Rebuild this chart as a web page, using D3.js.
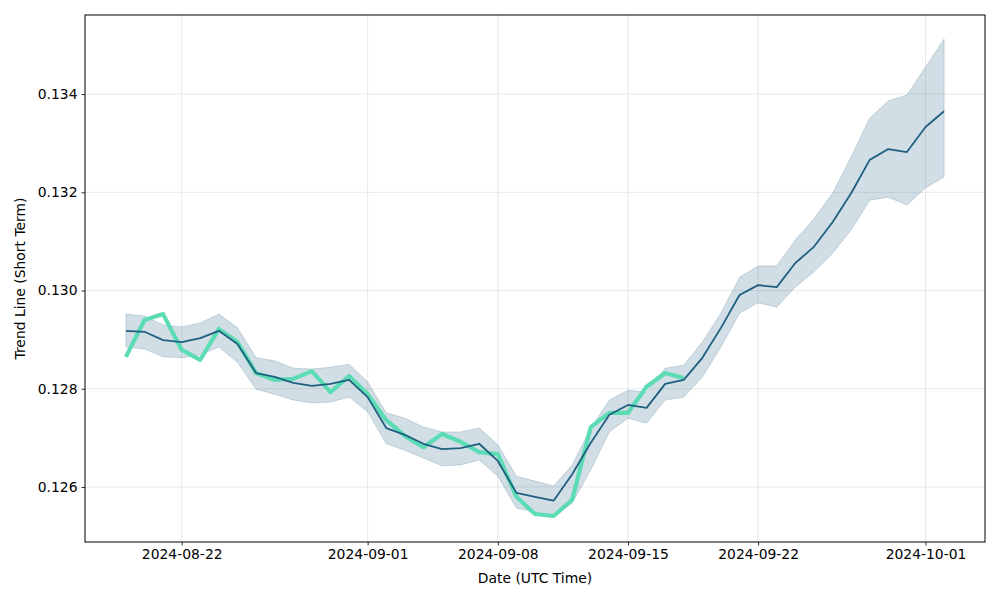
<!DOCTYPE html>
<html>
<head>
<meta charset="utf-8">
<title>Trend Line (Short Term)</title>
<script src="https://d3js.org/d3.v7.min.js"></script>
<style>
  html, body { margin: 0; padding: 0; background: #fff; }
  svg { display: block; font-family: "DejaVu Sans", sans-serif; }
</style>
</head>
<body>
<script>
// daily dates, 2024-08-19 .. 2024-10-02
var startDate = "2024-08-19";
var dayCount = 45;

// short term trend line (dark) and its band
var trendValues = [
  0.12918, 0.12916, 0.12899, 0.12895, 0.12903, 0.12918, 0.12891, 0.12832, 0.12824, 0.12812,
  0.12806, 0.12810, 0.12818, 0.12783, 0.12720, 0.12706, 0.12688, 0.12677, 0.12679, 0.12688,
  0.12653, 0.12588, 0.12580, 0.12572, 0.12626, 0.12690, 0.12747, 0.12767, 0.12761, 0.12810,
  0.12818, 0.12863, 0.12924, 0.12991, 0.13011, 0.13007, 0.13056, 0.13089, 0.13139, 0.13198,
  0.13266, 0.13288, 0.13282, 0.13333, 0.13365
];
var upperValues = [
  0.12952, 0.12948, 0.12930, 0.12926, 0.12934, 0.12952, 0.12924, 0.12863, 0.12857, 0.12842,
  0.12840, 0.12844, 0.12850, 0.12814, 0.12751, 0.12740, 0.12722, 0.12712, 0.12712, 0.12720,
  0.12686, 0.12622, 0.12612, 0.12602, 0.12645, 0.12720, 0.12777, 0.12797, 0.12793, 0.12842,
  0.12848, 0.12895, 0.12954, 0.13027, 0.13050, 0.13050, 0.13103, 0.13146, 0.13198, 0.13272,
  0.13351, 0.13386, 0.13398, 0.13455, 0.13512
];
var lowerValues = [
  0.12885, 0.12881, 0.12865, 0.12863, 0.12869, 0.12885, 0.12854, 0.12799, 0.12789, 0.12777,
  0.12771, 0.12773, 0.12783, 0.12753, 0.12688, 0.12675, 0.12659, 0.12643, 0.12645, 0.12655,
  0.12622, 0.12557, 0.12549, 0.12541, 0.12567, 0.12635, 0.12712, 0.12740, 0.12730, 0.12777,
  0.12783, 0.12824, 0.12885, 0.12954, 0.12975, 0.12966, 0.13007, 0.13038, 0.13076, 0.13123,
  0.13184, 0.13190, 0.13174, 0.13209, 0.13231
];
// actual price (green), 2024-08-19 .. 2024-09-18
var priceValues = [
  0.12865, 0.12940, 0.12952, 0.12879, 0.12859, 0.12922, 0.12895, 0.12832, 0.12818, 0.12820,
  0.12836, 0.12793, 0.12826, 0.12789, 0.12736, 0.12704, 0.12681, 0.12708, 0.12692, 0.12671,
  0.12667, 0.12580, 0.12545, 0.12541, 0.12574, 0.12722, 0.12751, 0.12751, 0.12804, 0.12832,
  0.12822
];

var xTickLabels = ["2024-08-22", "2024-09-01", "2024-09-08", "2024-09-15", "2024-09-22", "2024-10-01"];
var yTickLabels = [0.126, 0.128, 0.130, 0.132, 0.134];

var width = 1000, height = 600;
var plotLeft = 85, plotRight = 985, plotTop = 15, plotBottom = 542;
var fontSize = "13.9px";

var parse = d3.utcParse("%Y-%m-%d");
var day0 = parse(startDate);
var dates = d3.range(dayCount).map(function(i) { return d3.utcDay.offset(day0, i); });

// matplotlib style 5% margins
var pad = 2.2 * 864e5;
var x = d3.scaleUtc()
  .domain([new Date(+dates[0] - pad), new Date(+dates[dates.length - 1] + pad)])
  .range([plotLeft, plotRight]);
var y = d3.scaleLinear()
  .domain([0.12488, 0.13561])
  .range([plotBottom, plotTop]);

var svg = d3.select("body").append("svg")
  .attr("width", width)
  .attr("height", height);

// grid
var grid = svg.append("g");
grid.selectAll("line.gx")
  .data(xTickLabels)
  .enter().append("line")
  .attr("x1", function(d) { return x(parse(d)); })
  .attr("x2", function(d) { return x(parse(d)); })
  .attr("y1", plotTop).attr("y2", plotBottom)
  .attr("stroke", "#b0b0b0").attr("stroke-opacity", 0.35).attr("stroke-width", 0.8);
grid.selectAll("line.gy")
  .data(yTickLabels)
  .enter().append("line")
  .attr("x1", plotLeft).attr("x2", plotRight)
  .attr("y1", function(d) { return y(d); })
  .attr("y2", function(d) { return y(d); })
  .attr("stroke", "#b0b0b0").attr("stroke-opacity", 0.35).attr("stroke-width", 0.8);

var bandColor = "#1f5a7c";

// confidence band
var area = d3.area()
  .x(function(d, i) { return x(dates[i]); })
  .y0(function(d, i) { return y(lowerValues[i]); })
  .y1(function(d, i) { return y(upperValues[i]); });
svg.append("path")
  .datum(trendValues)
  .attr("d", area)
  .attr("fill", bandColor).attr("fill-opacity", 0.2)
  .attr("stroke", bandColor).attr("stroke-opacity", 0.2).attr("stroke-width", 1);

var line = d3.line()
  .x(function(d, i) { return x(dates[i]); })
  .y(function(d) { return y(d); });

// price line
svg.append("path")
  .datum(priceValues)
  .attr("d", line)
  .attr("fill", "none")
  .attr("stroke", "#5cdcb4")
  .attr("stroke-width", 4.2)
  .attr("stroke-linejoin", "round");

// trend line
svg.append("path")
  .datum(trendValues)
  .attr("d", line)
  .attr("fill", "none")
  .attr("stroke", "#1f5f80")
  .attr("stroke-width", 1.8)
  .attr("stroke-linejoin", "round");

// axes
var xAxis = d3.axisBottom(x)
  .tickValues(xTickLabels.map(parse))
  .tickFormat(d3.utcFormat("%Y-%m-%d"))
  .tickSize(3.5).tickPadding(4);
var yAxis = d3.axisLeft(y)
  .tickValues(yTickLabels)
  .tickFormat(d3.format(".3f"))
  .tickSize(3.5).tickPadding(4);

var gx = svg.append("g").attr("transform", "translate(0," + plotBottom + ")").call(xAxis);
var gy = svg.append("g").attr("transform", "translate(" + plotLeft + ",0)").call(yAxis);
[gx, gy].forEach(function(g) {
  g.select(".domain").remove();
  g.selectAll("text").attr("fill", "#000").style("font-size", fontSize).style("font-family", "DejaVu Sans");
  g.selectAll("line").attr("stroke", "#000").attr("stroke-width", 0.8);
});

// frame
svg.append("rect")
  .attr("x", plotLeft).attr("y", plotTop)
  .attr("width", plotRight - plotLeft).attr("height", plotBottom - plotTop)
  .attr("fill", "none").attr("stroke", "#000").attr("stroke-width", 1);

// labels
svg.append("text")
  .attr("x", (plotLeft + plotRight) / 2).attr("y", 583)
  .attr("text-anchor", "middle")
  .style("font-size", fontSize)
  .text("Date (UTC Time)");
svg.append("text")
  .attr("transform", "translate(25," + (plotTop + plotBottom) / 2 + ") rotate(-90)")
  .attr("text-anchor", "middle")
  .style("font-size", fontSize)
  .text("Trend Line (Short Term)");
</script>
</body>
</html>
